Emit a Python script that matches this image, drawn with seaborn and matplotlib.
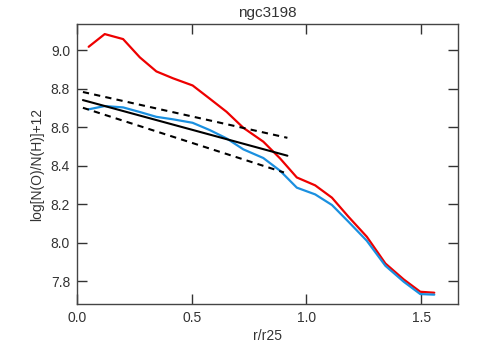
import numpy as np
import matplotlib
matplotlib.use("Agg")
import matplotlib.pyplot as plt
import pandas as pd
import seaborn as sns

# radial profiles
r = [0.051, 0.121, 0.201, 0.274, 0.346, 0.419, 0.504, 0.579, 0.652, 0.725, 0.812,
     0.885, 0.958, 1.038, 1.111, 1.183, 1.263, 1.344, 1.424, 1.496, 1.557]
red = [9.019, 9.085, 9.059, 8.964, 8.891, 8.855, 8.818, 8.749, 8.681, 8.598, 8.526,
       8.439, 8.340, 8.299, 8.235, 8.136, 8.032, 7.893, 7.810, 7.746, 7.741]
blue = [8.694, 8.711, 8.704, 8.680, 8.655, 8.642, 8.624, 8.586, 8.543, 8.486, 8.441,
        8.375, 8.287, 8.252, 8.197, 8.110, 8.011, 7.881, 7.798, 7.734, 7.731]

# linear fit and its envelope
fit_r = [0.026, 0.917]
fit_mid = [8.742, 8.453]
fit_hi_r = [0.026, 0.917]
fit_hi = [8.784, 8.546]
fit_lo_r = [0.026, 0.902]
fit_lo = [8.702, 8.366]

sns.set_style("ticks")
plt.rcParams['font.family'] = ['Liberation Sans', 'DejaVu Sans']

fig = plt.figure(figsize=(4.81, 3.54), dpi=100)
ax = fig.add_axes([0.160, 0.141, 0.792, 0.791])

prof = pd.DataFrame({"r": r, "red": red, "blue": blue})
sns.lineplot(data=prof, x="r", y="red", color="#ee0000", lw=1.6, ax=ax)
sns.lineplot(data=prof, x="r", y="blue", color="#1a90e0", lw=1.6, ax=ax)
sns.lineplot(x=fit_r, y=fit_mid, color="black", lw=1.5, ax=ax)
sns.lineplot(x=fit_hi_r, y=fit_hi, color="black", lw=1.5, ls=(0, (3, 2.5)), ax=ax)
sns.lineplot(x=fit_lo_r, y=fit_lo, color="black", lw=1.5, ls=(0, (3, 2.5)), ax=ax)

ax.set_xlim(0, 1.66)
ax.set_ylim(7.682, 9.137)
ax.set_xticks([0.0, 0.5, 1.0, 1.5])
ax.set_yticks([7.8, 8.0, 8.2, 8.4, 8.6, 8.8, 9.0])
ax.xaxis.set_major_formatter(matplotlib.ticker.FormatStrFormatter('%.1f'))
ax.yaxis.set_major_formatter(matplotlib.ticker.FormatStrFormatter('%.1f'))
ax.tick_params(direction='in', length=7, width=1, top=True, right=True,
               labelsize=10, colors='#333333', pad=5)
for s in ax.spines.values():
    s.set_linewidth(1)
    s.set_color('#444444')

ax.set_xlabel("r/r25", fontsize=10, color='#333333', labelpad=3)
ax.set_ylabel("log[N(O)/N(H)]+12", fontsize=10, color='#333333', labelpad=5)
ax.set_title("ngc3198", fontsize=11, color='#333333', pad=5)

fig.savefig("out.png", dpi=100)
